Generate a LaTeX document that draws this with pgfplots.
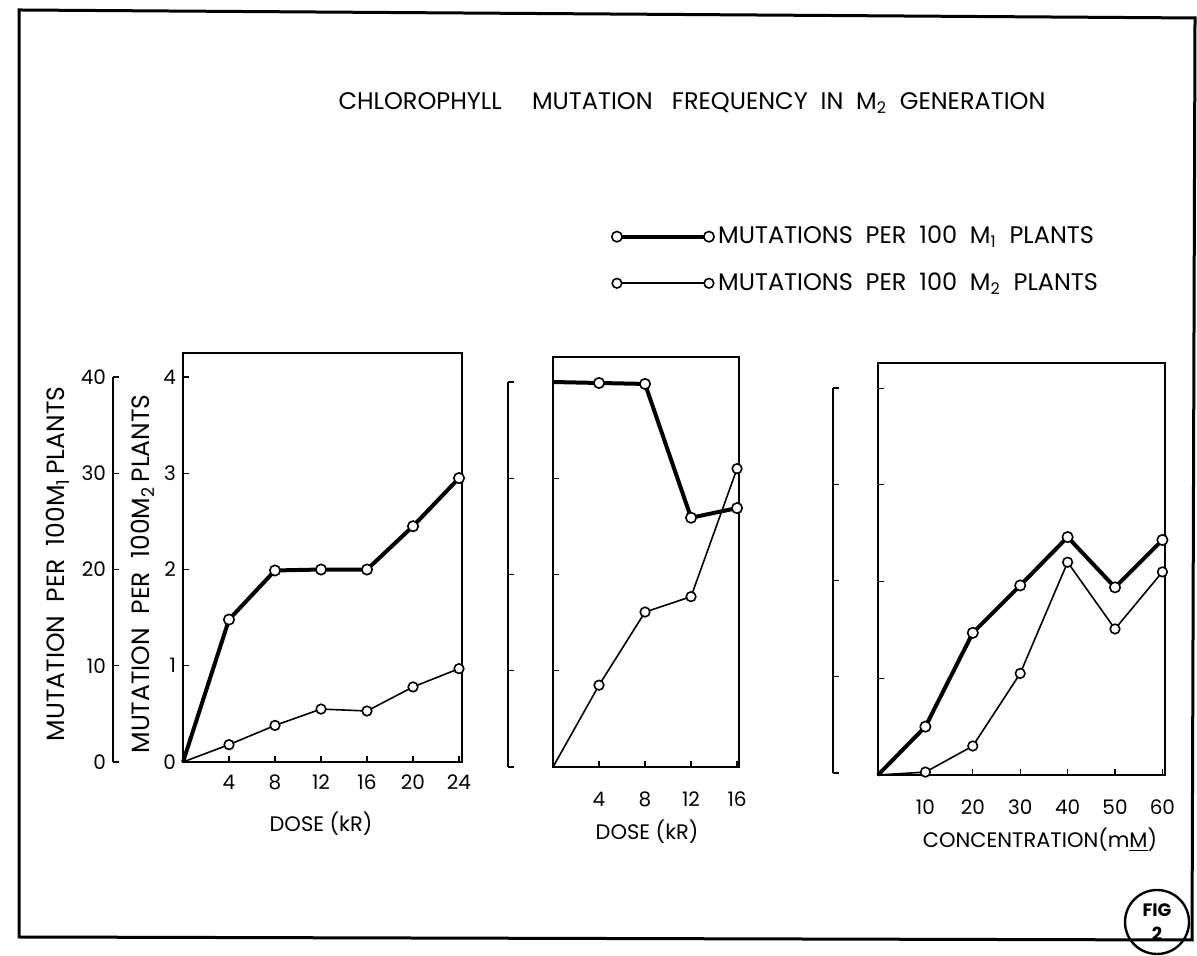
\documentclass[border=0pt]{standalone}
\usepackage{fontspec}
\setmainfont{Poppins}
\usepackage{pgfplots}
\pgfplotsset{compat=1.18}
\pgfplotsset{
  panel/.style={scale only axis, anchor=south west,
    axis line style={line width=1.1pt},
    tick align=inside, xtick pos=bottom, ytick pos=left,
    major tick length=3pt, tick style={line width=0.6pt,black},
    ticklabel style={font=\fontsize{10}{11}\selectfont},
    xticklabel style={yshift=-3pt},
    /pgf/number format/assume math mode=true, clip=false},
  outer/.style={scale only axis, anchor=south west, width=1pt,
    xmin=0, xmax=1, hide x axis, axis y line*=left,
    axis line style={line width=1.1pt,-},
    tick align=inside, major tick length=3pt, tick style={line width=0.6pt,black},
    ticklabel style={font=\fontsize{10}{11}\selectfont},
    /pgf/number format/assume math mode=true},
  mone/.style={black, line width=2pt, mark=*, mark phase=2, mark size=2.6pt,
    mark options={fill=white, draw=black, line width=0.8pt, solid}},
  mtwo/.style={black, line width=0.8pt, mark=*, mark phase=2, mark size=2.4pt,
    mark options={fill=white, draw=black, line width=0.8pt, solid}},
}
\begin{document}
\begin{tikzpicture}[x=0.5pt,y=0.5pt]
\path[use as bounding box] (0,0) rectangle (1197,956);
\draw[line width=1.5pt] (19,946) -- (1195,938) -- (1192,16) -- (19,19) -- cycle;

% outer y axes
\begin{axis}[outer, at={(56.5pt,97pt)}, height=192.5pt, ymin=0, ymax=40, ytick={0,10,20,30,40}]
\end{axis}
\begin{axis}[outer, at={(254pt,94.5pt)}, height=192.5pt, ymin=0, ymax=4, ytick={0,...,4}, yticklabels={}]
\end{axis}
\begin{axis}[outer, at={(416.5pt,91.5pt)}, height=192.5pt, ymin=0, ymax=4, ytick={0,...,4}, yticklabels={}]
\end{axis}

% panel 1
\begin{axis}[panel, at={(91.5pt,97pt)}, width=139.5pt, height=204.5pt,
  xmin=0, xmax=24.26, ymin=0, ymax=4.25, xtick={4,8,12,16,20,24}, ytick={0,1,2,3,4}]
\addplot[mone] coordinates {(0,0) (4,1.48) (8,1.99) (12,2.0) (16,2.0) (20,2.45) (24,2.95)};
\addplot[mtwo] coordinates {(0,0) (4,0.18) (8,0.38) (12,0.55) (16,0.53) (20,0.78) (24,0.97)};
\end{axis}

% panel 2
\begin{axis}[panel, at={(276.5pt,94.5pt)}, width=93pt, height=205pt,
  xmin=0, xmax=16.17, ymin=0, ymax=4.26, xtick={4,8,12,16}, ytick={1,2,3}, yticklabels={},
  xticklabel style={yshift=-6pt}]
\addplot[mone] coordinates {(0,4.0) (4,3.99) (8,3.98) (12,2.59) (16,2.69)};
\addplot[mtwo] coordinates {(0,0) (4,0.85) (8,1.61) (12,1.77) (16,3.1)};
\end{axis}

% panel 3
\begin{axis}[panel, at={(439pt,90.5pt)}, width=143.5pt, height=206pt,
  xmin=0, xmax=60.55, ymin=0, ymax=4.26, xtick={10,20,30,40,50,60}, ytick={1,2,3,4}, yticklabels={},
  xticklabel style={yshift=-6pt},
  legend style={at={(axis description cs:-0.95,1.352)}, anchor=north west, draw=none, fill=none,
    font=\fontsize{12}{13}\selectfont, row sep=9pt, cells={anchor=west}},
  legend image code/.code={\draw[mark repeat=2,mark phase=1,#1] plot coordinates {(0pt,0pt) (23pt,0pt) (46pt,0pt)};}]
\addplot[mone] coordinates {(0,0) (10,0.50) (20,1.47) (30,1.96) (40,2.46) (50,1.94) (60,2.43)};
\addlegendentry{MUTATIONS\ \ PER\ \ 100\ \ M\textsubscript{1}\ \ PLANTS}
\addplot[mtwo] coordinates {(0,0) (10,0.03) (20,0.30) (30,1.05) (40,2.20) (50,1.51) (60,2.10)};
\addlegendentry{MUTATIONS\ \ PER\ \ 100\ \ M\textsubscript{2}\ \ PLANTS}
\end{axis}

% texts
\node[font=\fontsize{12}{14}\selectfont] at (692,853) {CHLOROPHYLL\quad\ MUTATION\ \ \ FREQUENCY\ \ IN\ \ M\textsubscript{2}\ \ GENERATION};
\node[rotate=90, font=\fontsize{12.5}{14}\selectfont] at (58,392) {MUTATION\ \ PER\ \ 100M\textsubscript{1}\,PLANTS};
\node[rotate=90, font=\fontsize{12.5}{14}\selectfont] at (143,382) {MUTATION\ \ PER\ \ 100M\textsubscript{2}\,PLANTS};
\node[font=\fontsize{10.5}{12}\selectfont] at (321,132) {DOSE (kR)};
\node[font=\fontsize{10.5}{12}\selectfont] at (647,124) {DOSE (kR)};
\node[font=\fontsize{10.5}{12}\selectfont] at (1040,116) {CONCENTRATION(m\underline{M})};
\draw[line width=1.2pt] (1157,34) circle (16pt);
\node[font=\fontsize{9}{10}\selectfont\bfseries] at (1157,46) {FIG};
\node[font=\fontsize{9}{10}\selectfont\bfseries] at (1157,22) {2};
\end{tikzpicture}
\end{document}
